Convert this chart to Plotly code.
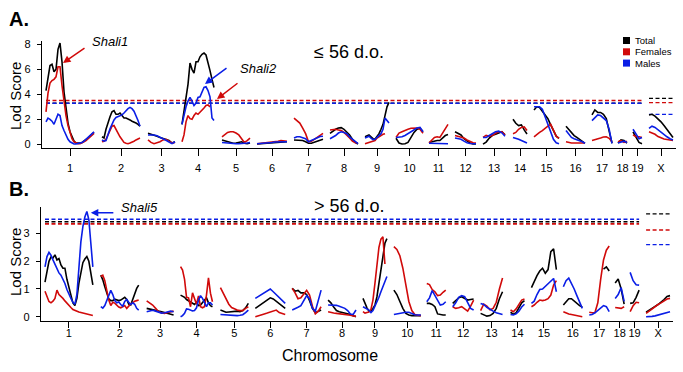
import numpy as np
import plotly.graph_objects as go

# ---------------- data ----------------
CHROMS = ["1", "2", "3", "4", "5", "6", "7", "8", "9", "10",
          "11", "12", "13", "14", "15", "16", "17", "18", "19", "X"]
CHROM_START_CM = [8, 120, 212, 280, 360, 430, 504, 576, 646, 708,
                  774, 826, 882, 942, 984, 1048, 1100, 1152, 1182, 1214]
CHROM_LEN_CM = [96, 76, 54, 64, 56, 60, 58, 56, 48, 54,
                38, 42, 44, 28, 50, 38, 40, 18, 18, 48]

# LOD values along each chromosome (evenly spaced markers), panel A (<= 56 d.o.)
TOP_TOTAL = [
    [4.3, 5.4, 6.3, 6.4, 5.8, 6.0, 7.6, 8.1, 6.6, 4.2, 2.8, 1.7, 1.0, 0.55, 0.25, 0.1, 0.08, 0.1, 0.15, 0.25, 0.35, 0.5, 0.65, 0.8, 0.95],
    [0.6, 0.5, 1.2, 1.8, 2.2, 2.6, 2.7, 2.4, 2.4, 2.5, 2.3, 2.1, 2.1, 2.05, 1.95, 1.85, 1.8, 1.7, 1.6, 1.45],
    [0.88, 0.82, 0.75, 0.65, 0.55, 0.45, 0.38, 0.3, 0.1, 0.2],
    [1.6, 2.6, 3.8, 4.8, 6.5, 6.0, 5.7, 6.6, 6.6, 7.0, 7.2, 7.3, 7.15, 6.6, 5.9, 5.2, 4.55],
    [0.35, 0.28, 0.2, 0.12, 0.08, 0.1, 0.15, 0.2, 0.08, 0.05, 0.1],
    [0.03, 0.05, 0.07, 0.09, 0.1, 0.12, 0.14, 0.15, 0.15, 0.17, 0.2],
    [0.35, 0.35, 0.35, 0.3, 0.2, 0.08, 0.08, 0.15, 0.25, 0.35, 0.4],
    [0.88, 1.05, 1.2, 1.3, 1.33, 1.2, 1.0, 0.75, 0.4, 0.15, 0.02],
    [0.6, 0.68, 0.75, 0.6, 0.45, 0.4, 0.6, 0.85, 1.2, 1.6, 2.3, 3.0, 3.35],
    [0.48, 0.1, 0.03, 0.05, 0.15, 0.6, 0.95, 1.2, 1.28, 1.0],
    [0.15, 0.2, 0.28, 0.3, 0.3, 0.5, 0.7, 0.78],
    [1.0, 0.9, 0.75, 0.45, 0.25, 0.1, 0.03, 0.02],
    [0.02, 0.18, 0.5, 0.72, 0.8, 0.88, 1.0, 0.75],
    [2.0, 1.68, 1.5, 1.55, 1.15, 0.82],
    [2.75, 3.0, 2.95, 2.65, 2.35, 2.05, 1.55, 1.1, 0.65, 0.48],
    [1.45, 1.2, 0.95, 0.7, 0.55, 0.4, 0.25, 0.08],
    [2.35, 2.75, 2.55, 2.55, 2.4, 2.05, 1.05, 0.08],
    [0.1, 0.35, 0.3, 0.1],
    [1.0, 0.55, 0.15, 0.05],
    [2.35, 2.4, 2.25, 2.05, 1.8, 1.5, 1.2, 0.85, 0.55],
]
TOP_FEMALES = [
    [2.6, 4.1, 4.9, 5.1, 5.2, 5.4, 6.2, 6.2, 4.7, 3.3, 2.3, 1.5, 0.9, 0.45, 0.2, 0.1, 0.05, 0.05, 0.1, 0.2, 0.3, 0.45, 0.6, 0.75, 0.88],
    [0.2, 0.25, 0.4, 0.8, 1.15, 1.45, 1.5, 1.25, 0.9, 0.6, 0.35, 0.15, 0.08, 0.05, 0.1, 0.15, 0.25, 0.35, 0.45, 0.5],
    [0.35, 0.15, 0.05, 0.1, 0.2, 0.35, 0.4, 0.25, 0.1, 0.15],
    [0.2, 0.75, 1.8, 2.3, 2.05, 2.0, 2.3, 2.5, 2.4, 2.55, 2.75, 2.9, 3.1, 3.15, 3.0, None, None],
    [0.6, 0.8, 0.95, 1.0, 1.0, 0.9, 0.75, 0.45, 0.15, 0.3, 0.5],
    [0.05, 0.07, 0.1, 0.12, 0.15, 0.2, 0.22, 0.25, 0.3, 0.28, 0.25],
    [2.1, 1.9, 1.7, 1.3, 0.85, 0.2, 0.25, 0.4, 0.55, 0.75, 0.88],
    [1.15, 1.18, 1.2, 1.15, 1.1, 0.95, 0.75, 0.5, 0.25, 0.12, 0.1],
    [0.05, 0.1, 0.15, 0.18, 0.2, 0.3, 0.5, 0.62, 0.72, 0.8, 0.85, None, None],
    [0.55, 0.9, 1.0, 1.12, 1.2, 1.28, 1.32, 1.3, 1.2, 0.88],
    [0.1, 0.3, 0.55, 0.6, 0.55, 0.9, 1.25, 1.6],
    [0.7, 0.65, 0.6, 0.5, 0.35, 0.2, 0.12, 0.1],
    [0.55, 0.72, 0.65, 0.7, 0.88, 1.0, 1.0, 0.75],
    [0.85, 0.95, 1.2, 1.35, 1.4, 1.1],
    [0.6, 0.8, 0.95, 1.1, 1.3, 1.45, 1.6, 1.1, 0.65, 0.48],
    [0.2, 0.12, 0.1, 0.1, 0.1, 0.1, 0.1, 0.1],
    [0.3, 0.35, 0.4, 0.5, 0.58, 0.6, 0.48, 0.2],
    [0.2, 0.3, 0.15, 0.25],
    [0.75, 0.6, 0.6, 0.55],
    [1.0, 0.92, 0.8, 0.62, 0.5, 0.42, 0.38, 0.33, 0.3],
]
TOP_MALES = [
    [1.8, 2.1, 2.0, 1.85, 1.6, 2.0, 2.4, 2.3, 1.5, 1.1, 0.7, 0.4, 0.2, 0.1, 0.03, 0.02, 0.05, 0.1, 0.15, 0.25, 0.4, 0.6, 0.75, 0.9, 1.0],
    [0.35, 0.25, 0.3, 0.8, 1.25, 1.6, 1.95, 2.15, 2.2, 2.3, 2.35, 2.5, 2.7, 2.85, 2.95, 2.85, 2.65, 2.3, 1.9, 1.45],
    [0.75, 0.75, 0.75, 0.68, 0.58, 0.45, 0.32, 0.18, 0.05, 0.2],
    [1.6, 2.4, 3.0, 3.45, 3.75, 3.45, 3.1, 3.3, 3.75, 3.8, 4.2, 4.55, 4.6, 4.3, 3.8, 2.1, 1.9],
    [0.15, 0.12, 0.08, 0.05, 0.05, 0.05, 0.05, 0.05, 0.05, 0.1, 0.15],
    [0.05, 0.06, 0.08, 0.1, 0.12, 0.15, 0.18, 0.2, 0.22, 0.22, 0.2],
    [0.5, 0.6, 0.6, 0.55, 0.45, 0.2, 0.3, 0.42, 0.55, 0.62, 0.65],
    [0.45, 0.55, 0.7, 0.9, 1.0, 0.95, 0.85, 0.6, 0.4, 0.2, 0.05],
    [0.5, 0.6, 0.65, 0.5, 0.38, 0.4, 0.55, 0.65, 0.85, 1.2, 2.1, 1.9, 1.7],
    [0.55, 0.58, 0.6, 0.7, 0.85, 1.0, 1.15, 1.3, 1.35, 1.0],
    [0.08, 0.07, 0.06, 0.05, 0.05, 0.05, 0.06, 0.05],
    [0.5, 0.45, 0.4, 0.25, 0.12, 0.06, 0.05, 0.05],
    [0.55, 0.55, 0.7, 0.85, 1.0, 1.05, 0.92, 0.65],
    [0.55, 0.5, 0.4, 0.3, 0.18, 0.1],
    [3.0, 3.0, 3.0, 2.8, 2.2, 1.7, 0.95, 0.4, 0.12, 0.05],
    [1.1, 0.8, 0.55, 0.45, 0.38, 0.3, 0.2, 0.08],
    [1.9, 2.15, 2.35, 2.3, 2.1, 1.9, 1.2, 0.08],
    [0.1, 0.2, 0.25, 0.15],
    [1.2, 0.8, 0.45, 0.55],
    [1.28, 1.45, 1.35, 1.15, 0.95, 0.75, 0.6, 0.45, 0.35],
]

# panel B (> 56 d.o.)
BOT_TOTAL = [
    [1.25, 1.65, 2.0, 2.15, 2.12, 2.23, 2.05, 2.1, 1.87, 1.75, 1.75, 1.35, 1.05, 0.8, 0.5, 0.4, 0.66, 1.2, 1.65, 1.95, 2.08, 2.17, 2.0, 1.6, 1.15],
    [1.5, 1.33, 1.08, 0.85, 0.64, 0.58, 0.58, 0.63, 0.6, 0.58, 0.6, 0.65, 0.7, 0.62, 0.45, 0.42, 0.62, 0.87, 1.02, 1.14],
    [0.3, 0.27, 0.24, 0.22, 0.2, 0.18, 0.15, 0.12, 0.08, 0.06],
    [0.78, 0.75, 0.7, 0.62, 0.58, 0.54, 0.48, 0.44, 0.52, 0.4, 0.42, 0.5, 0.62, 0.68, 0.5, 0.4, 0.36],
    [0.24, 0.2, 0.16, 0.17, 0.18, 0.2, 0.2, 0.18, 0.22, 0.32, 0.48],
    [0.3, 0.38, 0.45, 0.52, 0.6, 0.68, 0.64, 0.55, 0.47, 0.39, 0.3],
    [1.02, 0.92, 0.95, 0.86, 0.86, 0.8, 0.58, 0.3, 0.14, 0.2, 0.24],
    [0.6, 0.5, 0.35, 0.22, 0.18, 0.16, 0.14, 0.12, 0.08, 0.03, 0.0],
    [0.66, 0.48, 0.32, 0.2, 0.2, 0.3, 0.42, 0.72, 1.2, 1.85, 2.3, 2.65, 2.82],
    [0.96, 0.8, 0.55, 0.3, 0.12, 0.06, 0.04, 0.04, 0.04, 0.04],
    [0.48, 0.48, 0.44, 0.36, 0.1, 0.07, 0.06, 0.06],
    [0.48, 0.58, 0.68, 0.72, 0.66, 0.6, 0.62, 0.64],
    [0.12, 0.07, 0.02, 0.04, 0.12, 0.3, 0.65, 0.9],
    [0.16, 0.09, 0.14, 0.3, 0.5, 0.58],
    [1.05, 1.3, 1.48, 1.65, 1.75, 1.57, 1.7, 2.35, 2.45, 1.7],
    [0.42, 0.55, 0.65, 0.65, 0.57, 0.46, 0.4, 0.35],
    [None, None, None, None, None, 1.72, 1.8, 1.65],
    [1.22, 1.36, 1.0, 0.45],
    [0.48, 0.5, 0.7, 0.96],
    [0.16, 0.24, 0.31, 0.37, 0.44, 0.52, 0.62, 0.73, 0.76],
]
BOT_FEMALES = [
    [0.92, 0.72, 0.55, 0.5, 0.56, 0.66, 0.96, 0.8, 0.74, 0.66, 0.57, 0.48, 0.4, 0.33, 0.26, 0.22, 0.19, 0.17, 0.15, 0.13, 0.11, 0.08, 0.07, 0.06, 0.04],
    [1.45, 1.5, 1.3, 0.9, 0.6, 0.4, 0.52, 0.49, 0.42, 0.35, 0.32, 0.35, 0.4, 0.3, 0.4, 0.46, 0.5, 0.56, 0.58, 0.6],
    [0.57, 0.5, 0.42, 0.3, 0.18, 0.13, 0.12, 0.15, 0.18, 0.2],
    [1.81, 1.68, 1.35, 0.7, 0.68, 0.36, 0.86, 0.65, 0.45, 0.75, 0.36, 0.32, 0.36, 0.78, 1.4, 0.85, 0.54],
    [1.05, 0.85, 0.65, 0.45, 0.33, 0.28, 0.24, 0.22, 0.22, 0.3, 0.36],
    [0.0, 0.04, 0.07, 0.1, 0.13, 0.16, 0.2, 0.24, 0.15, 0.1, 0.08],
    [1.02, 0.86, 0.65, 0.68, 0.82, 0.95, 0.78, 0.38, 0.1, 0.2, 0.36],
    [0.18, 0.15, 0.13, 0.12, 0.11, 0.09, 0.08, 0.06, 0.05, 0.03, 0.02],
    [0.18, 0.13, 0.15, 0.17, 0.26, 0.6, 1.2, 1.9, 2.5, 2.8, 2.88, 1.9, None],
    [2.53, 2.43, 2.2, 1.75, 1.15, 0.55, 0.22, 0.08, 0.05, 0.04],
    [1.2, 1.16, 0.98, 0.9, 0.76, 0.78, 0.88, 0.96],
    [0.36, 0.3, 0.32, 0.36, 0.28, 0.2, 0.38, 0.6],
    [0.22, 0.45, 0.38, 0.25, 0.3, 0.52, 1.0, 1.4],
    [0.24, 0.18, 0.28, 0.46, 0.6, 0.64],
    [0.36, 0.42, 0.52, 0.6, 0.58, 0.6, 0.65, 0.78, 1.14, 1.3],
    [0.18, 0.13, 0.1, 0.08, 0.06, 0.04, 0.02, 0.0],
    [0.16, 0.14, 0.15, 0.5, 1.35, 2.05, 2.4, 2.55],
    [0.33, 0.31, 0.3, 0.36],
    [0.18, 0.4, 0.52, 0.5],
    [0.12, 0.2, 0.28, 0.38, 0.44, 0.5, 0.58, 0.64, 0.66],
]
BOT_MALES = [
    [1.8, 2.17, 2.32, 2.22, 2.05, 1.88, 1.72, 1.58, 1.5, 1.35, 1.2, 0.98, 0.8, 0.66, 0.52, 0.45, 0.8, 1.8, 2.7, 3.25, 3.6, 3.8, 3.5, 2.65, 1.8],
    [0.36, 0.31, 0.4, 0.6, 0.8, 0.95, 0.8, 0.58, 0.5, 0.53, 0.44, 0.38, 0.55, 0.62, 0.52, 0.44, 0.5, 0.45, 0.3, 0.24],
    [0.18, 0.2, 0.23, 0.2, 0.16, 0.13, 0.14, 0.17, 0.2, 0.18],
    [0.0, 0.04, 0.12, 0.28, 0.27, 0.24, 0.21, 0.22, 0.32, 0.6, 0.76, 0.66, 0.48, 0.36, 0.5, 0.5, 0.42],
    [0.08, 0.07, 0.06, 0.05, 0.04, 0.04, 0.04, 0.05, 0.07, 0.15, 0.24],
    [0.66, 0.73, 0.8, 0.85, 0.92, 1.0, 0.9, 0.8, 0.68, 0.58, 0.48],
    [0.24, 0.28, 0.34, 0.4, 0.6, 0.76, 0.65, 0.3, 0.2, 0.58, 0.96],
    [0.42, 0.42, 0.42, 0.41, 0.38, 0.35, 0.3, 0.22, 0.1, 0.08, 0.24],
    [0.36, 0.32, 0.28, 0.24, 0.15, 0.22, 0.38, 0.52, 0.7, 0.9, 1.1, 1.3, 1.45],
    [0.08, 0.1, 0.13, 0.15, 0.16, 0.16, 0.12, 0.07, 0.06, 0.06],
    [0.54, 0.68, 0.94, 0.78, 0.6, 0.42, 0.45, 0.54],
    [0.36, 0.5, 0.7, 0.76, 0.72, 0.52, 0.3, 0.24],
    [0.48, 0.44, 0.34, 0.26, 0.2, 0.14, 0.1, 0.08],
    [0.08, 0.06, 0.1, 0.2, 0.35, 0.45],
    [0.48, 0.56, 0.8, 0.98, 1.0, 1.1, 1.2, 1.3, 1.38, 0.9],
    [1.08, 1.3, 1.39, 1.22, 1.0, 0.76, 0.5, 0.3],
    [0.06, 0.08, 0.14, 0.22, 0.32, 0.4, 0.36, 0.18],
    [0.66, 0.8, 1.05, 0.55],
    [1.6, 1.3, 1.15, 1.14],
    [0.0, 0.0, 0.01, 0.03, 0.06, 0.09, 0.12, 0.15, 0.18],
]

SERIES = ["Total", "Females", "Males"]
# significance thresholds (Total, Females, Males)
THRESH_TOP_AUTO = [3.28, 3.50, 3.28]
THRESH_TOP_X = [3.68, 3.33, 2.40]
THRESH_BOT_AUTO = [3.43, 3.35, 3.52]
THRESH_BOT_X = [3.71, 3.13, 2.60]

# ---------------- style ----------------
COLORS = {"Total": "#000000", "Females": "#d10a0a", "Males": "#0a1ee6"}
FONT = "Liberation Sans, Arial, sans-serif"
W, H = 683, 372


def px(x):
    return x / W


def py(y):
    return 1 - y / H


def segments(lists):
    xs, ys = [], []
    for vals, s, L in zip(lists, CHROM_START_CM, CHROM_LEN_CM):
        pos = s + np.linspace(0, L, len(vals))
        xs.extend(pos.tolist())
        ys.extend(vals)
        xs.append(None)
        ys.append(None)
    return xs, ys


fig = go.Figure()

panels = [
    ("x", "y", {"Total": TOP_TOTAL, "Females": TOP_FEMALES, "Males": TOP_MALES}, THRESH_TOP_AUTO, THRESH_TOP_X),
    ("x2", "y2", {"Total": BOT_TOTAL, "Females": BOT_FEMALES, "Males": BOT_MALES}, THRESH_BOT_AUTO, THRESH_BOT_X),
]

auto_x0 = CHROM_START_CM[0]
auto_x1 = CHROM_START_CM[18] + CHROM_LEN_CM[18]
x_x0 = CHROM_START_CM[19]
x_x1 = CHROM_START_CM[19] + CHROM_LEN_CM[19]

for xa, ya, data, th_auto, th_x in panels:
    for i, name in enumerate(SERIES):
        fig.add_trace(go.Scatter(
            x=[auto_x0, auto_x1], y=[th_auto[i], th_auto[i]], mode="lines",
            line=dict(color=COLORS[name], width=1.6, dash="4px,2.5px"),
            xaxis=xa, yaxis=ya, showlegend=False, hoverinfo="skip"))
        fig.add_trace(go.Scatter(
            x=[x_x0, x_x1], y=[th_x[i], th_x[i]], mode="lines",
            line=dict(color=COLORS[name], width=1.3, dash="4px,2.5px"),
            xaxis=xa, yaxis=ya, showlegend=False, hoverinfo="skip"))
    for name in SERIES:
        xs, ys = segments(data[name])
        fig.add_trace(go.Scatter(
            x=xs, y=ys, mode="lines", connectgaps=False,
            line=dict(color=COLORS[name], width=1.6),
            xaxis=xa, yaxis=ya, showlegend=False, name=name))

centers = [s + L / 2 for s, L in zip(CHROM_START_CM, CHROM_LEN_CM)]
XMAX = 1268

common_x = dict(range=[0, XMAX], showline=True, linecolor="black", linewidth=1.2,
                ticks="outside", tickwidth=1.2, tickcolor="black",
                tickvals=centers, ticktext=CHROMS, showgrid=False, zeroline=False,
                automargin=False,
                tickfont=dict(size=11, color="black", family=FONT), fixedrange=True)
common_y = dict(showline=True, linecolor="black", linewidth=1.2, ticks="outside",
                ticklen=4, tickwidth=1.2, tickcolor="black", showgrid=False,
                zeroline=False, automargin=False,
                tickfont=dict(size=11, color="black", family=FONT),
                ticklabelstandoff=4)

fig.update_layout(
    width=W, height=H,
    margin=dict(l=0, r=0, t=0, b=0),
    paper_bgcolor="white", plot_bgcolor="white",
    font=dict(family=FONT, color="black"),
    showlegend=False,
    xaxis=dict(domain=[px(42), px(676)], anchor="y", ticklen=7, ticklabelstandoff=2,
               **common_x),
    yaxis=dict(domain=[py(148.3), py(41.2)], range=[-0.32, 8.25], anchor="x",
               tickvals=[0, 2, 4, 6, 8], **common_y),
    xaxis2=dict(domain=[px(41), px(673)], anchor="y2", ticklen=6, ticklabelstandoff=-4,
                **common_x),
    yaxis2=dict(domain=[py(320.7), py(207)], range=[-0.145, 3.96], anchor="x2",
                tickvals=[0, 1, 2, 3], **common_y),
)


def label(text, x, y, size, **kw):
    d = dict(text=text, x=px(x), y=py(y), xref="paper", yref="paper",
             xanchor="center", yanchor="middle", showarrow=False,
             font=dict(size=size, color="black", family=FONT))
    d.update(kw)
    return d


ann = []
ann.append(label("<b>A.</b>", 19, 19, 20))
ann.append(label("<b>B.</b>", 19, 189, 20))
for yc in (96, 262):
    ann.append(label("Lod Score", 15, yc, 15, textangle=-90))
ann.append(label("Chromosome", 330, 355, 16))
ann.append(label("\u2264 56 d.o.", 349, 52, 18))
ann.append(label("> 56 d.o.", 349, 206, 18))
ann.append(label("<i>Shali1</i>", 110, 41, 13))
ann.append(label("<i>Shali2</i>", 258, 68, 13))
ann.append(label("<i>Shali5</i>", 139, 208, 13))

arrow_kw = dict(showarrow=True, arrowhead=2, arrowsize=1, arrowwidth=1.5, text="",
                axref="pixel", ayref="pixel")
ann.append(dict(x=42, y=6.5, xref="x", yref="y", ax=23, ay=-16,
                arrowcolor=COLORS["Females"], **arrow_kw))
ann.append(dict(x=326, y=4.82, xref="x", yref="y", ax=23, ay=-17,
                arrowcolor=COLORS["Males"], **arrow_kw))
ann.append(dict(x=350, y=3.62, xref="x", yref="y", ax=22, ay=-17,
                arrowcolor=COLORS["Females"], **arrow_kw))
ann.append(dict(x=100, y=3.75, xref="x2", yref="y2", ax=24, ay=0,
                arrowcolor=COLORS["Males"], **arrow_kw))
for i, name in enumerate(SERIES):
    ann.append(label(name, 633, 40.5 + 11.3 * i, 9.5, xanchor="left"))

shapes = []
for i, name in enumerate(SERIES):
    yc = 40.5 + 11.3 * i
    shapes.append(dict(type="rect", xref="paper", yref="paper",
                       x0=px(623), x1=px(630), y0=py(yc + 3.5), y1=py(yc - 3.5),
                       fillcolor=COLORS[name], line=dict(width=0)))

fig.update_layout(annotations=ann, shapes=shapes)

fig.write_html("out.html", config={"displayModeBar": False},
               post_script="document.body.style.margin='0';document.body.style.padding='0';")
